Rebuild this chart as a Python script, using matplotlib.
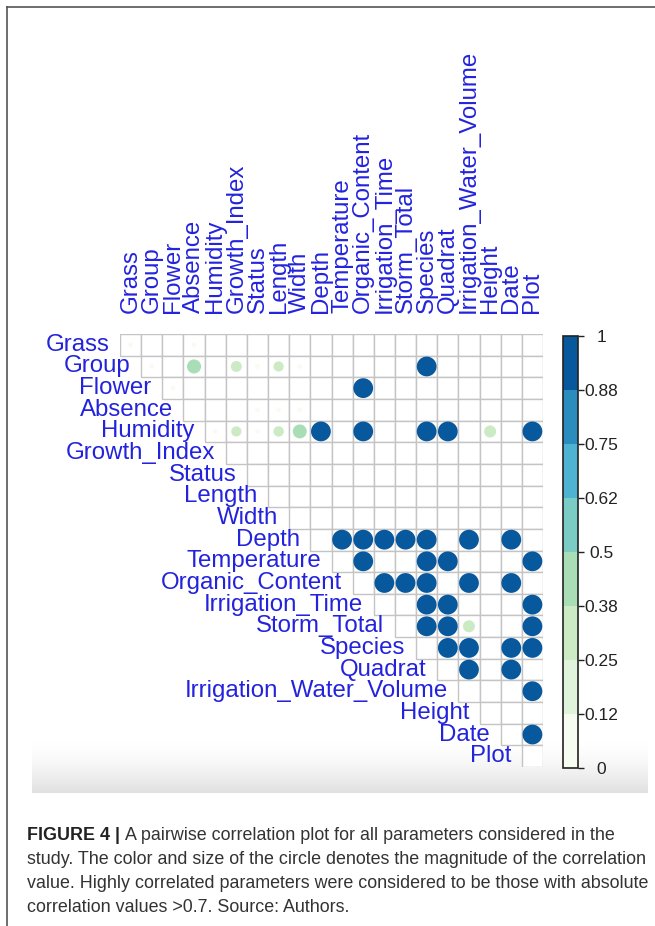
import numpy as np
import matplotlib
matplotlib.use("Agg")
import matplotlib.pyplot as plt
from matplotlib.patches import Rectangle
from matplotlib.colors import ListedColormap, BoundaryNorm
from matplotlib.cm import ScalarMappable
from matplotlib.lines import Line2D

variables = ["Grass", "Group", "Flower", "Absence", "Humidity", "Growth_Index",
             "Status", "Length", "Width", "Depth", "Temperature", "Organic_Content",
             "Irrigation_Time", "Storm_Total", "Species", "Quadrat",
             "Irrigation_Water_Volume", "Height", "Date", "Plot"]

# absolute correlations worth showing, one entry per (row, column) pair
pair_row = (["Group"] * 4 + ["Flower"] + ["Humidity"] * 9 + ["Depth"] * 7
            + ["Temperature"] * 4 + ["Organic_Content"] * 5 + ["Irrigation_Time"] * 3
            + ["Storm_Total"] * 4 + ["Species"] * 4 + ["Quadrat"] * 2
            + ["Irrigation_Water_Volume", "Date"])
pair_col = ["Absence", "Growth_Index", "Length", "Species",
            "Organic_Content",
            "Growth_Index", "Length", "Width", "Depth", "Organic_Content", "Species",
            "Quadrat", "Height", "Plot",
            "Temperature", "Organic_Content", "Irrigation_Time", "Storm_Total", "Species",
            "Irrigation_Water_Volume", "Date",
            "Organic_Content", "Species", "Quadrat", "Plot",
            "Irrigation_Time", "Storm_Total", "Species", "Irrigation_Water_Volume", "Date",
            "Species", "Quadrat", "Plot",
            "Species", "Quadrat", "Irrigation_Water_Volume", "Plot",
            "Quadrat", "Irrigation_Water_Volume", "Date", "Plot",
            "Irrigation_Water_Volume", "Date",
            "Plot", "Plot"]
pair_val = [0.49, 0.30, 0.26, 0.97,
            0.97,
            0.26, 0.27, 0.48, 0.97, 0.97, 0.97, 0.97, 0.36, 0.97,
            0.97, 0.97, 0.97, 0.97, 0.97, 0.97, 0.97,
            0.97, 0.97, 0.97, 0.97,
            0.97, 0.97, 0.97, 0.97, 0.97,
            0.97, 0.97, 0.97,
            0.97, 0.97, 0.36, 0.97,
            0.97, 0.97, 0.97, 0.97,
            0.97, 0.97,
            0.97, 0.97]

# near-zero pairs that still show a tiny dot
weak_row = ["Grass", "Grass", "Group", "Group", "Group", "Flower",
            "Absence", "Absence", "Absence", "Humidity", "Humidity"]
weak_col = ["Grass", "Absence", "Group", "Status", "Width", "Flower",
            "Status", "Length", "Width", "Humidity", "Status"]
weak_val = [0.05] * len(weak_row)

bar_ticks = [0, 0.125, 0.25, 0.375, 0.5, 0.625, 0.75, 0.875, 1]
bar_labels = ["0", "0.12", "0.25", "0.38", "0.5", "0.62", "0.75", "0.88", "1"]
palette = ["#f7fcf0", "#e0f3db", "#ccebc5", "#a8ddb5",
           "#7bccc4", "#4eb3d3", "#2b8cbe", "#08589e"]

caption_head = "FIGURE 4 |"
caption_lines = [
    "A pairwise correlation plot for all parameters considered in the",
    "study. The color and size of the circle denotes the magnitude of the correlation",
    "value. Highly correlated parameters were considered to be those with absolute",
    "correlation values >0.7. Source: Authors.",
]

W, H = 655, 926
label_blue = "#2323dd"
label_font = ["Liberation Sans", "DejaVu Sans"]
label_size = 17.3

fig = plt.figure(figsize=(W / 100, H / 100), dpi=100)


def fig_box(x0, y0, x1, y1):
    # pixel box (top-left origin) -> figure fraction rect
    return [x0 / W, 1 - y1 / H, (x1 - x0) / W, (y1 - y0) / H]


# soft grey strip at the foot of the plot panel
band = fig.add_axes(fig_box(32, 742, 648, 793), zorder=0)
grad = np.linspace(0, 1, 100)[:, None] ** 1.5
band.imshow(np.dstack([1 - 0.12 * grad] * 3), aspect="auto", extent=[0, 1, 0, 1])
band.axis("off")

n = len(variables)
idx = {v: i for i, v in enumerate(variables)}
cmap = ListedColormap(palette)
norm = BoundaryNorm(bar_ticks, cmap.N)

gx0, gx1, gy0, gy1 = 120, 543, 334, 767
ax = fig.add_axes(fig_box(gx0, gy0, gx1, gy1), zorder=2)
ax.set_xlim(0, n)
ax.set_ylim(n, 0)
ax.axis("off")

for i in range(n):
    for j in range(i, n):
        ax.add_patch(Rectangle((j, i), 1, 1, facecolor="white",
                               edgecolor="#c4c4c4", lw=1.0, zorder=1))

cell_px = (gx1 - gx0) / n
rows = [idx[v] for v in pair_row + weak_row]
cols = [idx[v] for v in pair_col + weak_col]
vals = np.array(pair_val + weak_val)
diam_pt = 0.95 * np.sqrt(vals) * cell_px * 72 / 100
ax.scatter(np.array(cols) + 0.5, np.array(rows) + 0.5, s=diam_pt ** 2,
           c=vals, cmap=cmap, norm=norm, linewidths=0, zorder=3, clip_on=False)

for i, v in enumerate(variables):
    ax.text(i - 0.5, i + 0.5, v, ha="right", va="center", fontsize=label_size,
            color=label_blue, family=label_font, clip_on=False)
    ax.text(i + 0.5, -0.95, v, ha="center", va="bottom", rotation=90,
            fontsize=label_size, color=label_blue, family=label_font, clip_on=False)

# colour key
cax = fig.add_axes(fig_box(563, 336, 578, 768), zorder=2)
cb = fig.colorbar(ScalarMappable(norm=norm, cmap=cmap), cax=cax, ticks=bar_ticks)
cb.outline.set_edgecolor("#222222")
cb.outline.set_linewidth(1.2)
cax.set_yticklabels(bar_labels)
cax.tick_params(axis="y", length=4, width=1, color="#222222", pad=13,
                labelsize=12.5, labelcolor="#222222")
for t in cax.get_yticklabels():
    t.set_ha("center")
    t.set_family(label_font)

# frame lines
fig.add_artist(Line2D([6.5 / W, 6.5 / W], [0, 1 - 6.5 / H], color="#555555", lw=1.2))
fig.add_artist(Line2D([6.5 / W, 1], [1 - 6.5 / H, 1 - 6.5 / H], color="#555555", lw=1.2))

# caption
cap_font = ["Liberation Sans", "DejaVu Sans"]
cap_size = 12.9
base = [840, 864, 888, 912]
head = fig.text(27 / W, 1 - base[0] / H, caption_head, fontsize=cap_size, weight="bold",
                family=cap_font, color="#222222", va="baseline")
fig.canvas.draw()
bb = head.get_window_extent(fig.canvas.get_renderer())
fig.text(bb.x1 / W + 5 / W, 1 - base[0] / H, caption_lines[0], fontsize=cap_size,
         family=cap_font, color="#333333", va="baseline")
for k in range(1, 4):
    fig.text(27 / W, 1 - base[k] / H, caption_lines[k], fontsize=cap_size,
             family=cap_font, color="#333333", va="baseline")

fig.savefig("out.png", dpi=100)
